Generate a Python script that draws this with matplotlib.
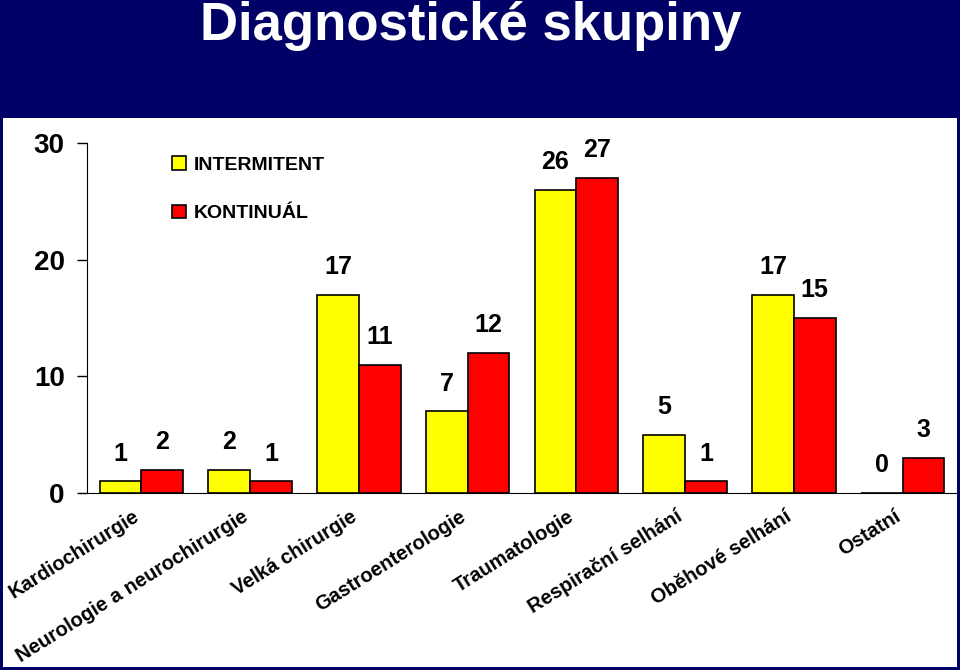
import matplotlib.pyplot as plt
from matplotlib.patches import Rectangle
from matplotlib.transforms import ScaledTranslation
import numpy as np

plt.rcParams['font.family'] = ['Liberation Sans', 'DejaVu Sans']

categories = ['Kardiochirurgie', 'Neurologie a neurochirurgie', 'Velká chirurgie',
              'Gastroenterologie', 'Traumatologie', 'Respirační selhání',
              'Oběhové selhání', 'Ostatní']
intermitent = [1, 2, 17, 7, 26, 5, 17, 0]
kontinual = [2, 1, 11, 12, 27, 1, 15, 3]
yticks = [0, 10, 20, 30]

navy = '#000066'

fig = plt.figure(figsize=(9.6, 6.7), dpi=100)
fig.patch.set_facecolor(navy)
# white panel behind the chart
fig.patches.append(Rectangle((3 / 960, 3 / 670), 954 / 960, 549 / 670,
                             transform=fig.transFigure, facecolor='white',
                             edgecolor='none', zorder=-5))

fig.text(0.49, 1 - 26 / 670, 'Diagnostické skupiny', color='white',
         fontsize=38, fontweight='bold', ha='center', va='center')

ax = fig.add_axes([87 / 960, 1 - 493 / 670, 870 / 960, 350 / 670])
ax.set_facecolor('none')

x = np.arange(len(categories))
w = 0.385
b1 = ax.bar(x - w / 2, intermitent, w, color='#FFFF00', edgecolor='black',
            linewidth=1.2, label='INTERMITENT')
b2 = ax.bar(x + w / 2, kontinual, w, color='#FF0000', edgecolor='black',
            linewidth=1.2, label='KONTINUÁL')

for bars, vals in ((b1, intermitent), (b2, kontinual)):
    for r, v in zip(bars, vals):
        ax.annotate(str(v), (r.get_x() + r.get_width() / 2, v),
                    xytext=(0, 20), textcoords='offset points',
                    ha='center', va='center', fontsize=18, fontweight='bold')

ax.set_xlim(-0.5, len(categories) - 0.5)
ax.set_ylim(0, 30)
ax.set_yticks(yticks)
ax.set_yticklabels([str(t) for t in yticks], fontsize=20, fontweight='bold')
ax.tick_params(axis='y', length=7, width=1, direction='out', pad=9)
ax.set_xticks(x)
ax.set_xticklabels(categories, rotation=32, ha='right', rotation_mode='anchor',
                   fontsize=14.5, fontweight='bold')
ax.tick_params(axis='x', length=0, pad=10)
# labels sit a little left of the group centre
shift = ScaledTranslation(-0.09, 0, fig.dpi_scale_trans)
for lbl in ax.get_xticklabels():
    lbl.set_transform(lbl.get_transform() + shift)
for s in ('top', 'right'):
    ax.spines[s].set_visible(False)

ax.legend(loc='upper left', bbox_to_anchor=(172 / 960, 1 - 156 / 670),
          bbox_transform=fig.transFigure, frameon=False, borderpad=0,
          borderaxespad=0, handlelength=0.7, handleheight=0.7,
          handletextpad=0.4, labelspacing=1.6,
          prop={'size': 14, 'weight': 'bold'})

fig.savefig('out.png', dpi=100, facecolor=fig.get_facecolor())
